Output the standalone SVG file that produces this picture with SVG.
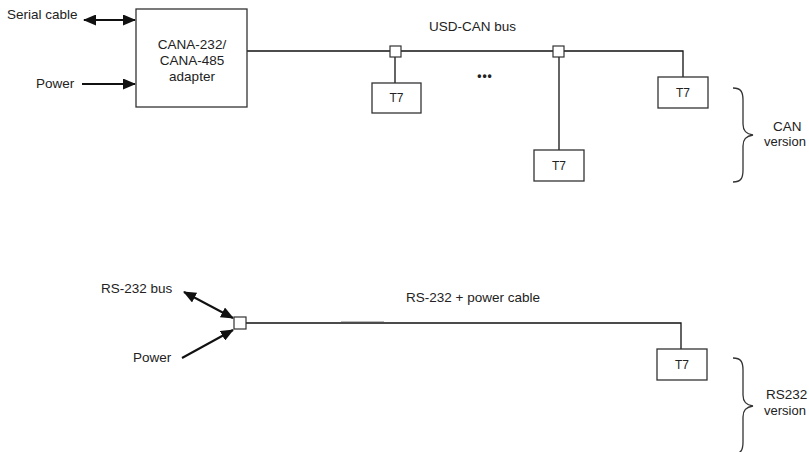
<svg xmlns="http://www.w3.org/2000/svg" width="809" height="452" viewBox="0 0 809 452">
<defs>
<style>
text{font-family:"Liberation Sans",Arial,sans-serif;font-size:13.5px;fill:#222}
.t7{font-size:12px}
.box{fill:#fff;stroke:#333;stroke-width:1.3}
.jn{fill:#fff;stroke:#333;stroke-width:1.2}
.wire{fill:none;stroke:#111;stroke-width:1.3}
.arr{fill:none;stroke:#111;stroke-width:2}
.brace{fill:none;stroke:#333;stroke-width:1.3}
</style>
<marker id="ah" markerUnits="userSpaceOnUse" markerWidth="13" markerHeight="11" refX="12" refY="5.5" orient="auto-start-reverse">
<path d="M0,0 L13,5.5 L0,11 z" fill="#111"/>
</marker>
</defs>
<rect width="809" height="452" fill="#fff"/>

<g id="connectors">
<line class="arr" x1="84" y1="20" x2="135" y2="20" marker-start="url(#ah)" marker-end="url(#ah)"/>
<line class="arr" x1="82" y1="84" x2="135" y2="84" marker-end="url(#ah)"/>
<path class="wire" d="M247,51 H390"/>
<path class="wire" d="M401,51 H553"/>
<path class="wire" d="M564,51 H683 V77"/>
<path class="wire" d="M395,57 V83"/>
<path class="wire" d="M559,57 V150"/>
<line class="arr" x1="184" y1="292" x2="233" y2="318" marker-start="url(#ah)" marker-end="url(#ah)"/>
<line class="arr" x1="182" y1="358" x2="233" y2="330" marker-end="url(#ah)"/>
<path class="wire" d="M246,323 H681 V349"/>
<line x1="341" y1="321.5" x2="384" y2="321.5" stroke="#bbb" stroke-width="1"/>
</g>

<g id="serial-label"><text x="7" y="19">Serial cable</text></g>
<g id="power-label"><text x="36" y="88">Power</text></g>

<g id="adapter">
<rect class="box" x="136" y="9" width="111" height="98"/>
<text x="192" y="49" text-anchor="middle">CANA-232/</text>
<text x="192" y="65" text-anchor="middle">CANA-485</text>
<text x="192" y="81" text-anchor="middle">adapter</text>
</g>

<g id="bus-label"><text x="429" y="31">USD-CAN bus</text></g>

<g id="junction1"><rect class="jn" x="390" y="46" width="11" height="11"/></g>
<g id="junction2"><rect class="jn" x="553" y="46" width="11" height="11"/></g>

<g id="t7-1">
<rect class="box" x="372" y="83" width="49" height="30"/>
<text class="t7" x="396.5" y="102" text-anchor="middle">T7</text>
</g>
<g id="dots"><text x="485" y="80" text-anchor="middle" style="font-size:12px;font-weight:bold;letter-spacing:1px">•••</text></g>
<g id="t7-2">
<rect class="box" x="534" y="150" width="50" height="31"/>
<text class="t7" x="559" y="170" text-anchor="middle">T7</text>
</g>
<g id="t7-3">
<rect class="box" x="658" y="77" width="50" height="31"/>
<text class="t7" x="683" y="97" text-anchor="middle">T7</text>
</g>

<g id="can-brace">
<path class="brace" d="M733,88 C741,88 743,92 743,100 L743,124 C743,131 746,134 753,135 C746,136 743,139 743,146 L743,170 C743,178 741,182 733,182"/>
<text x="773" y="131">CAN</text>
<text x="764" y="146" style="font-size:13px">version</text>
</g>

<g id="rs232-bus-label"><text x="101" y="293">RS-232 bus</text></g>
<g id="rs232-power-label"><text x="133" y="362">Power</text></g>
<g id="junction3"><rect class="jn" x="234" y="317" width="12" height="12"/></g>
<g id="cable-label"><text x="406" y="302">RS-232 + power cable</text></g>

<g id="t7-4">
<rect class="box" x="657" y="349" width="50" height="31"/>
<text class="t7" x="682" y="369" text-anchor="middle">T7</text>
</g>

<g id="rs232-brace">
<path class="brace" d="M733,358 C741,358 743,362 743,370 L743,395 C743,402 746,405 753,406 C746,407 743,410 743,417 L743,442 C743,450 741,454 733,454"/>
<text x="766" y="399">RS232</text>
<text x="764" y="415" style="font-size:13px">version</text>
</g>
</svg>
